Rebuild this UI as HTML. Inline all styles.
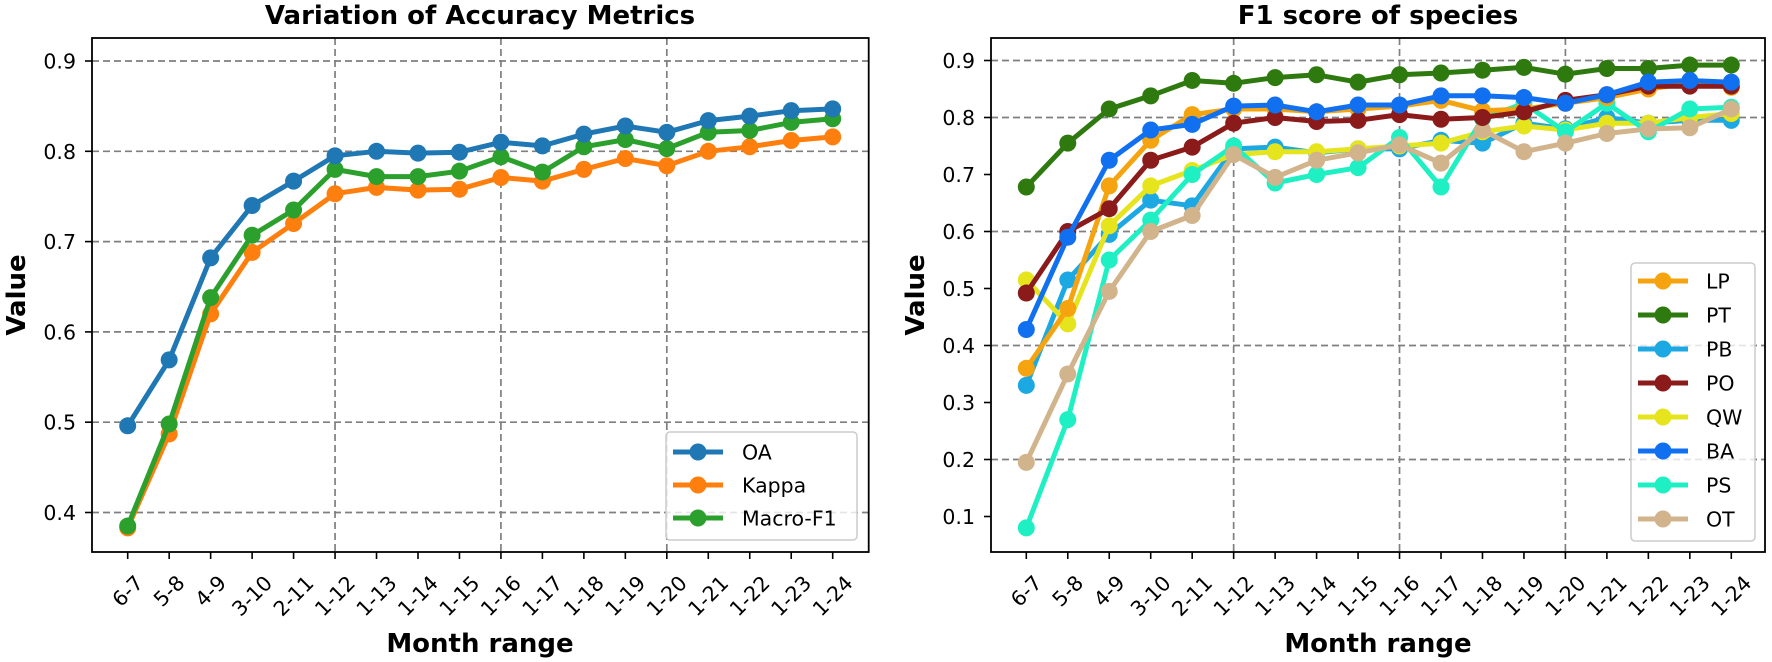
<!DOCTYPE html>
<html><head><meta charset="utf-8"><style>
html,body{margin:0;padding:0;background:#fff;}
svg{display:block;font-family:"DejaVu Sans","Liberation Sans",sans-serif;}
.t{font-size:20.5px;fill:#000;}
.b{font-size:26px;font-weight:bold;fill:#000;}
.g{stroke:#7f7f7f;stroke-width:1.7;stroke-dasharray:7 4;fill:none;}
.s{stroke:#000;stroke-width:1.8;fill:none;}
</style></head><body>
<svg id="c" width="1772" height="662" viewBox="0 0 1772 662" xmlns="http://www.w3.org/2000/svg">
<rect width="1772" height="662" fill="#fff"/>
<g id="grid"></g>
<g id="data"></g>
<rect class="s" x="92" y="38" width="776.7" height="514"/>
<rect class="s" x="991" y="38" width="774" height="514"/>
<g id="ticks" stroke="#000" stroke-width="1.6"></g>
<text class="b" x="480" y="24" text-anchor="middle">Variation of Accuracy Metrics</text>
<text class="b" x="1378" y="24" text-anchor="middle">F1 score of species</text>
<text class="b" x="480" y="652" text-anchor="middle">Month range</text>
<text class="b" x="1378" y="652" text-anchor="middle">Month range</text>
<text class="b" transform="translate(25,295) rotate(-90)" text-anchor="middle">Value</text>
<text class="b" transform="translate(924,295) rotate(-90)" text-anchor="middle">Value</text>
<g class="t" text-anchor="end">
<text x="76" y="68.5">0.9</text><text x="76" y="158.8">0.8</text><text x="76" y="249.1">0.7</text>
<text x="76" y="339.4">0.6</text><text x="76" y="429.7">0.5</text><text x="76" y="520">0.4</text>
<text x="975" y="68">0.9</text><text x="975" y="125">0.8</text><text x="975" y="182">0.7</text>
<text x="975" y="239">0.6</text><text x="975" y="296">0.5</text><text x="975" y="353">0.4</text>
<text x="975" y="410">0.3</text><text x="975" y="467">0.2</text><text x="975" y="524">0.1</text>
</g>
<g id="xl" class="t" text-anchor="middle" dominant-baseline="central">
<text>6-7</text><text>5-8</text><text>4-9</text><text>3-10</text><text>2-11</text><text>1-12</text><text>1-13</text><text>1-14</text><text>1-15</text><text>1-16</text><text>1-17</text><text>1-18</text><text>1-19</text><text>1-20</text><text>1-21</text><text>1-22</text><text>1-23</text><text>1-24</text>
<text>6-7</text><text>5-8</text><text>4-9</text><text>3-10</text><text>2-11</text><text>1-12</text><text>1-13</text><text>1-14</text><text>1-15</text><text>1-16</text><text>1-17</text><text>1-18</text><text>1-19</text><text>1-20</text><text>1-21</text><text>1-22</text><text>1-23</text><text>1-24</text>
</g>
<rect x="666" y="432" width="191" height="108" rx="4" fill="#fff" fill-opacity="0.8" stroke="#ccc" stroke-width="1.5"/>
<g id="lleg"></g>
<g class="t">
<text x="742" y="459.5">OA</text><text x="742" y="492.5">Kappa</text><text x="742" y="525.5">Macro-F1</text>
</g>
<rect x="1631" y="263" width="124" height="278" rx="4" fill="#fff" fill-opacity="0.8" stroke="#ccc" stroke-width="1.5"/>
<g id="rleg"></g>
<g class="t">
<text x="1706" y="288.5">LP</text><text x="1706" y="322.5">PT</text><text x="1706" y="356.5">PB</text><text x="1706" y="390.5">PO</text>
<text x="1706" y="424.5">QW</text><text x="1706" y="458.5">BA</text><text x="1706" y="492.5">PS</text><text x="1706" y="526.5">OT</text>
</g>
</svg>
<script>
(function(){
var NS="http://www.w3.org/2000/svg";
function el(p,n,a){var e=document.createElementNS(NS,n);for(var k in a)e.setAttribute(k,a[k]);p.appendChild(e);return e;}
var grid=document.getElementById('grid'),data=document.getElementById('data'),ticks=document.getElementById('ticks');
var dx=41.47;
function LX(i){return 127.7+i*dx;} function LY(v){return 61+(0.9-v)*903;}
function RX(i){return 1026.3+i*dx;} function RY(v){return 60.5+(0.9-v)*570;}
[0.9,0.8,0.7,0.6,0.5,0.4].forEach(function(v){el(grid,'line',{x1:92,x2:868.7,y1:LY(v),y2:LY(v),'class':'g'});});
[0.9,0.8,0.6,0.4,0.2].forEach(function(v){el(grid,'line',{x1:991,x2:1765,y1:RY(v),y2:RY(v),'class':'g'});});
[5,9,13].forEach(function(i){el(grid,'line',{x1:LX(i),x2:LX(i),y1:38,y2:552,'class':'g'});el(grid,'line',{x1:RX(i),x2:RX(i),y1:38,y2:552,'class':'g'});});
for(var i=0;i<18;i++){el(ticks,'line',{x1:LX(i),x2:LX(i),y1:552,y2:559});el(ticks,'line',{x1:RX(i),x2:RX(i),y1:552,y2:559});}
[0.9,0.8,0.7,0.6,0.5,0.4].forEach(function(v){el(ticks,'line',{x1:85,x2:92,y1:LY(v),y2:LY(v)});});
for(var k=1;k<=9;k++){var v=k/10;el(ticks,'line',{x1:984,x2:991,y1:RY(v),y2:RY(v)});}
var xl=document.getElementById('xl').children;
for(var j=0;j<xl.length;j++){var t=xl[j];var idx=j%18;var x=j<18?LX(idx):RX(idx);
 var L=t.textContent.length===3?34:47.8;var cy=573+(L+17)*0.354;
 t.setAttribute('transform','translate('+x+','+cy+') rotate(-45)');}
function series(X,Y,vals,col){
 var pts=vals.map(function(v,i){return X(i).toFixed(1)+','+Y(v).toFixed(1);}).join(' ');
 el(data,'polyline',{points:pts,fill:'none',stroke:col,'stroke-width':5,'stroke-linejoin':'round'});
 vals.forEach(function(v,i){el(data,'circle',{cx:X(i),cy:Y(v),r:8.5,fill:col});});
}
var L=[
 ['#ff7f0e',[.383,.487,.620,.688,.720,.753,.760,.757,.758,.771,.767,.780,.792,.784,.800,.805,.812,.816]],
 ['#2ca02c',[.385,.498,.638,.707,.735,.780,.772,.772,.778,.794,.777,.805,.813,.803,.821,.823,.832,.836]],
 ['#1f77b4',[.496,.569,.682,.740,.767,.795,.800,.798,.799,.810,.806,.819,.828,.821,.834,.839,.845,.847]]
];
L.forEach(function(s){series(LX,LY,s[1],s[0]);});
var R=[
 ['#2e7a0f',[.678,.755,.815,.838,.865,.860,.870,.875,.862,.875,.878,.883,.888,.876,.886,.886,.892,.892]],
 ['#1ca8e2',[.330,.515,.595,.655,.645,.745,.748,.738,.745,.745,.760,.755,.790,.780,.800,.790,.795,.795]],
 ['#e6e41c',[.515,.438,.610,.680,.707,.735,.740,.740,.745,.750,.755,.775,.785,.778,.790,.790,.800,.807]],
 ['#1ff0c4',[.080,.270,.550,.620,.700,.750,.685,.700,.712,.765,.678,.798,.825,.775,.825,.775,.815,.818]],
 ['#d2b48c',[.195,.350,.495,.600,.628,.735,.695,.725,.738,.752,.720,.778,.740,.755,.772,.780,.782,.815]],
 ['#f5a40f',[.360,.465,.680,.760,.805,.815,.815,.810,.815,.820,.830,.812,.815,.825,.835,.850,.860,.853]],
 ['#8b1a1a',[.492,.600,.640,.725,.748,.790,.800,.793,.795,.805,.797,.800,.810,.830,.840,.855,.855,.855]],
 ['#1070f0',[.428,.590,.725,.778,.788,.820,.822,.810,.822,.822,.838,.838,.835,.825,.840,.862,.865,.862]]
];
R.forEach(function(s){series(RX,RY,s[1],s[0]);});
function leg(g,x,y,col){el(g,'line',{x1:x,x2:x+50,y1:y,y2:y,stroke:col,'stroke-width':5});el(g,'circle',{cx:x+25,cy:y,r:8.5,fill:col});}
var lg=document.getElementById('lleg');
leg(lg,673,452,'#1f77b4');leg(lg,673,485,'#ff7f0e');leg(lg,673,518,'#2ca02c');
var rg=document.getElementById('rleg');
['#f5a40f','#2e7a0f','#1ca8e2','#8b1a1a','#e6e41c','#1070f0','#1ff0c4','#d2b48c'].forEach(function(c,i){leg(rg,1638,281+i*34,c);});
})();
</script>
</body></html>
